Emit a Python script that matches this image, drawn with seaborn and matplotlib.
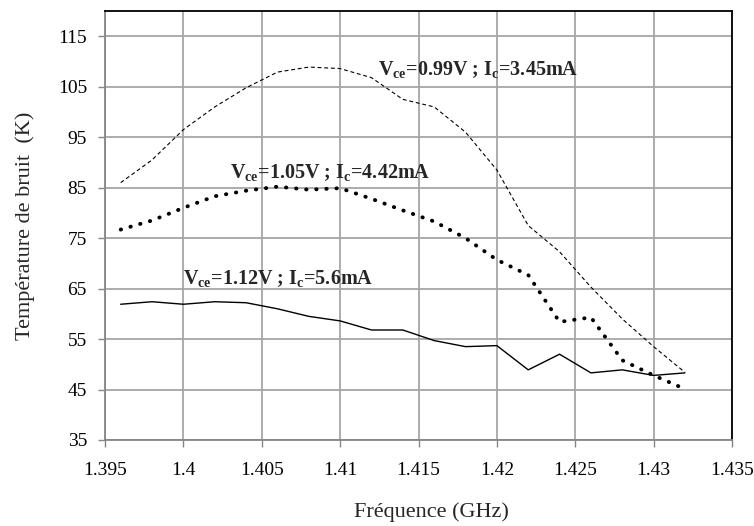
import matplotlib
matplotlib.use("Agg")
import matplotlib.pyplot as plt
import seaborn as sns
import numpy as np
import pandas as pd
from matplotlib.ticker import FuncFormatter, MultipleLocator

# frequency points (GHz)
freq = [1.396, 1.398, 1.400, 1.402, 1.404, 1.406, 1.408, 1.410, 1.412, 1.414,
        1.416, 1.418, 1.420, 1.422, 1.424, 1.426, 1.428, 1.430, 1.432]

# noise temperature (K) for each bias point
t_099 = [86.0, 90.5, 96.5, 101.0, 104.8, 107.9, 108.9, 108.6, 106.8, 102.5,
         101.0, 96.0, 88.5, 77.5, 72.3, 65.3, 59.0, 53.5, 48.4]
t_105 = [76.7, 78.5, 81.0, 83.3, 84.4, 85.2, 84.6, 84.9, 82.8, 80.5,
         78.3, 75.0, 70.7, 67.7, 58.4, 59.3, 50.8, 47.8, 45.1]
t_112 = [61.9, 62.4, 61.9, 62.4, 62.2, 61.0, 59.5, 58.6, 56.8, 56.8,
         54.7, 53.5, 53.7, 48.9, 52.0, 48.3, 48.9, 47.8, 48.3]

labels = [r"$\mathbf{V_{ce}}$=0.99V ; $\mathbf{I_c}$=3.45mA",
          r"$\mathbf{V_{ce}}$=1.05V ; $\mathbf{I_c}$=4.42mA",
          r"$\mathbf{V_{ce}}$=1.12V ; $\mathbf{I_c}$=5.6mA"]

sns.set_theme(style="white")
plt.rcParams["font.family"] = ["Liberation Serif", "DejaVu Serif"]
plt.rcParams["mathtext.fontset"] = "custom"
plt.rcParams["mathtext.rm"] = "Liberation Serif"
plt.rcParams["mathtext.bf"] = "Liberation Serif:bold"

fig = plt.figure(figsize=(7.54, 5.26), dpi=100)
ax = fig.add_axes([0.1393, 0.1635, 0.8315, 0.8155])

sns.lineplot(x=freq, y=t_099, ax=ax, color="black", linestyle=(0, (3.5, 2.5)), linewidth=0.8)
sns.lineplot(x=freq, y=t_105, ax=ax, color="black", linestyle=(0, (0.1, 2.5)), linewidth=2.8,
             dash_capstyle="round")
sns.lineplot(x=freq, y=t_112, ax=ax, color="black", linestyle="-", linewidth=1.0)

ax.set_xlim(1.395, 1.435)
ax.set_ylim(35, 120)
ax.xaxis.set_major_locator(MultipleLocator(0.005))
ax.set_yticks(np.arange(35, 116, 10))
ax.xaxis.set_major_formatter(FuncFormatter(lambda v, p: f"{v:.3f}".rstrip("0").rstrip(".")))

ax.grid(True, color="#a6a6a6", linewidth=1.3)
ax.set_axisbelow(True)

for side in ["left", "bottom"]:
    ax.spines[side].set_color("#868686")
    ax.spines[side].set_linewidth(1.3)
for side in ["top", "right"]:
    ax.spines[side].set_color("black")
    ax.spines[side].set_linewidth(1.3)

ax.tick_params(axis="both", which="major", direction="out", length=5, width=1.0,
               color="#868686", labelsize=14, labelcolor="black",
               bottom=True, left=True)
ax.tick_params(axis="y", pad=8)
ax.tick_params(axis="x", pad=11)

ax.set_xlabel("Fréquence (GHz)", fontsize=16)
ax.set_ylabel("Température de bruit  (K)", fontsize=16)
ax.xaxis.set_label_coords(0.52, -0.146)
ax.yaxis.set_label_coords(-0.111, 0.5)

ax.text(1.4124, 108.4, labels[0], fontsize=14.5, fontweight="bold", va="center", ha="left")
ax.text(1.4030, 88.0, labels[1], fontsize=14.5, fontweight="bold", va="center", ha="left")
ax.text(1.4000, 67.0, labels[2], fontsize=14.5, fontweight="bold", va="center", ha="left")

fig.savefig("out.png", dpi=100)
